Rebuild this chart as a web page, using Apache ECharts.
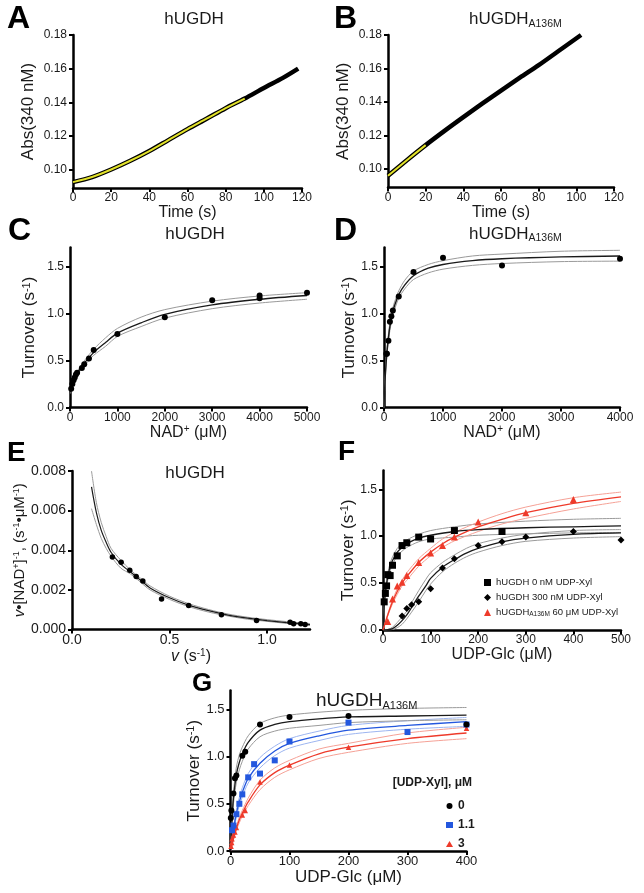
<!DOCTYPE html>
<html><head><meta charset="utf-8">
<script src="https://cdn.jsdelivr.net/npm/echarts@6/dist/echarts.min.js"></script>
<style>html,body{margin:0;padding:0;background:#fff}#c{width:644px;height:893px}</style>
</head><body><div id="c"></div>
<script>
// ---------- Panel A ----------
const aTraceT   = [0,10,20,30,40,50,60,70,80,90,100,110,118];
const aTraceAbs = [0.0925,0.0955,0.1000,0.1052,0.1110,0.1175,0.1240,0.1302,0.1365,0.1422,0.1485,0.1545,0.1600];
const aFitT     = [0,10,20,30,40,50,60,70,80,90];
const aFitAbs   = [0.0925,0.0955,0.1000,0.1052,0.1110,0.1175,0.1240,0.1302,0.1365,0.1422];
// ---------- Panel B ----------
const bTraceT   = [0,10,20,30,40,50,60,70,80,90,102.5];
const bTraceAbs = [0.0960,0.1053,0.1143,0.1228,0.1310,0.1390,0.1468,0.1545,0.1620,0.1700,0.1800];
const bFitT     = [0,10,20];
const bFitAbs   = [0.0960,0.1053,0.1143];
const absTicks  = [0.10,0.12,0.14,0.16,0.18];
// ---------- Panel C ----------
const cNad  = [25,50,75,100,125,150,250,300,400,500,1000,2000,3000,4000,4000,5000];
const cRate = [0.20,0.25,0.29,0.32,0.35,0.37,0.42,0.46,0.52,0.61,0.78,0.96,1.14,1.19,1.16,1.22];
const cFitX = [10,25,50,100,150,200,300,400,500,750,1000,1500,2000,3000,4000,5000];
const cFitMid = [0.16,0.20,0.245,0.31,0.36,0.40,0.47,0.53,0.585,0.69,0.79,0.90,0.99,1.09,1.15,1.19];
const cFitUp  = [0.17,0.21,0.255,0.32,0.375,0.42,0.495,0.56,0.62,0.74,0.84,0.96,1.04,1.13,1.185,1.22];
const cFitLo  = [0.15,0.19,0.235,0.30,0.345,0.38,0.445,0.50,0.555,0.65,0.755,0.86,0.95,1.05,1.11,1.15];
// ---------- Panel D ----------
const dNad  = [40,50,75,100,125,150,250,500,1000,2000,4000];
const dRate = [0.57,0.57,0.71,0.91,0.97,1.03,1.18,1.44,1.59,1.51,1.58];
const dFitX = [0,10,25,50,75,100,150,200,250,350,500,750,1000,1500,2000,3000,4000];
const dFitMid = [0,0.18,0.37,0.59,0.74,0.86,1.02,1.12,1.20,1.30,1.40,1.48,1.52,1.56,1.58,1.60,1.61];
const dFitUp  = [0,0.19,0.39,0.62,0.78,0.90,1.06,1.16,1.24,1.35,1.45,1.52,1.56,1.61,1.63,1.66,1.67];
const dFitLo  = [0,0.17,0.35,0.56,0.70,0.82,0.98,1.08,1.16,1.26,1.36,1.43,1.47,1.51,1.53,1.55,1.555];
const turnTicks = [0,0.5,1.0,1.5];
// ---------- Panel E ----------
const eV   = [0.207,0.252,0.296,0.329,0.363,0.459,0.598,0.766,0.946,1.118,1.136,1.173,1.195];
const eVS  = [0.00366,0.00339,0.00299,0.00268,0.00245,0.00154,0.00121,0.00075,0.00045,0.00037,0.00029,0.00029,0.00025];
const eFitX = [0.1,0.125,0.15,0.175,0.2,0.25,0.3,0.35,0.4,0.5,0.6,0.7,0.8,0.9,1.0,1.1,1.22];
const eFitMid = [0.0072,0.0059,0.0050,0.0044,0.0039,0.0033,0.0029,0.0025,0.0021,0.0016,0.00122,0.00095,0.00073,0.00057,0.00045,0.00035,0.00025];
const eFitUp  = [0.0080,0.0064,0.0054,0.0047,0.0041,0.0035,0.0030,0.0026,0.0022,0.00168,0.0013,0.00101,0.00078,0.00062,0.0005,0.0004,0.0003];
const eFitLo  = [0.0061,0.0053,0.0046,0.0041,0.0037,0.0031,0.0028,0.0024,0.0020,0.00152,0.00115,0.00088,0.00068,0.00052,0.00041,0.00031,0.0002];
const eXTicks = [0,0.5,1.0];
// ---------- Panel F ----------
const fSqX = [2.5,5,7.5,10,15,20,30,40,50,75,100,150,250];
const fSqY = [0.30,0.39,0.47,0.59,0.58,0.69,0.79,0.90,0.93,0.99,0.97,1.06,1.05];
const fDmX = [40,50,60,75,100,125,150,200,250,300,400,500];
const fDmY = [0.15,0.23,0.27,0.30,0.44,0.66,0.76,0.90,0.94,0.99,1.05,0.96];
const fTrX = [10,20,30,40,50,75,100,125,150,200,300,400];
const fTrY = [0.09,0.33,0.47,0.51,0.58,0.72,0.82,0.90,0.99,1.15,1.25,1.39];
const fSqFitX = [0,2.5,5,10,15,20,30,40,50,75,100,150,200,300,400,500];
const fSqFitMid = [0,0.25,0.40,0.57,0.67,0.74,0.83,0.88,0.92,0.98,1.01,1.05,1.07,1.09,1.10,1.11];
const fSqFitUp  = [0,0.27,0.44,0.61,0.71,0.78,0.87,0.92,0.96,1.02,1.06,1.10,1.13,1.16,1.18,1.19];
const fSqFitLo  = [0,0.23,0.36,0.53,0.63,0.70,0.79,0.84,0.88,0.94,0.97,0.99,1.01,1.025,1.035,1.04];
const fDmFitX = [0,10,20,30,40,50,60,75,90,100,125,150,175,200,250,300,400,500];
const fDmFitMid = [0,0.003,0.015,0.05,0.10,0.16,0.24,0.36,0.47,0.55,0.67,0.75,0.82,0.87,0.94,0.98,1.02,1.035];
const fDmFitUp  = [0,0.005,0.03,0.08,0.14,0.20,0.29,0.42,0.54,0.61,0.72,0.80,0.87,0.92,0.98,1.02,1.06,1.07];
const fDmFitLo  = [0,0.001,0.005,0.025,0.06,0.12,0.19,0.30,0.42,0.49,0.62,0.71,0.78,0.83,0.90,0.945,0.98,0.995];
const fTrFitX = [0,10,20,30,40,50,75,100,125,150,200,250,300,400,500];
const fTrFitMid = [0,0.16,0.30,0.41,0.50,0.57,0.72,0.83,0.92,0.99,1.10,1.18,1.25,1.35,1.42];
const fTrFitUp  = [0,0.17,0.32,0.44,0.53,0.61,0.76,0.87,0.97,1.04,1.15,1.24,1.31,1.41,1.47];
const fTrFitLo  = [0,0.15,0.28,0.38,0.47,0.53,0.68,0.79,0.88,0.95,1.05,1.13,1.19,1.29,1.37];
const fLegend = ['hUGDH 0 nM UDP-Xyl','hUGDH 300 nM UDP-Xyl','hUGDHA136M 60 μM UDP-Xyl'];
// ---------- Panel G ----------
const g0X = [0.5,1.5,5,7.5,10,20,25,50,100,200,400];
const g0Y = [0.35,0.43,0.61,0.77,0.80,1.01,1.05,1.34,1.42,1.43,1.34];
const g1X = [2.5,5,10,15,20,30,40,50,75,100,200,300,400];
const g1Y = [0.22,0.27,0.39,0.50,0.60,0.78,0.92,0.82,0.96,1.16,1.36,1.26,1.34];
const g3X = [1,2,2.5,5,7.5,10,20,25,50,100,200,400];
const g3Y = [0.05,0.09,0.13,0.17,0.20,0.25,0.38,0.43,0.73,0.91,1.10,1.30];
const gFitX = [0,2,5,10,15,20,30,50,75,100,150,200,300,400];
const g0FitMid = [0,0.27,0.56,0.81,0.94,1.03,1.15,1.28,1.34,1.37,1.40,1.42,1.43,1.44];
const g0FitUp  = [0,0.30,0.62,0.89,1.02,1.10,1.22,1.35,1.41,1.44,1.47,1.49,1.51,1.52];
const g0FitLo  = [0,0.24,0.50,0.73,0.86,0.95,1.08,1.21,1.27,1.30,1.33,1.36,1.38,1.39];
const g1FitMid = [0,0.09,0.22,0.40,0.52,0.62,0.77,0.93,1.06,1.14,1.22,1.28,1.33,1.37];
const g1FitUp  = [0,0.10,0.24,0.44,0.57,0.67,0.82,0.99,1.11,1.19,1.27,1.33,1.38,1.415];
const g1FitLo  = [0,0.08,0.20,0.36,0.48,0.57,0.72,0.88,1.01,1.09,1.17,1.235,1.29,1.32];
const g3FitMid = [0,0.05,0.13,0.24,0.33,0.40,0.52,0.70,0.83,0.91,1.03,1.10,1.19,1.25];
const g3FitUp  = [0,0.055,0.14,0.26,0.36,0.43,0.56,0.75,0.88,0.96,1.08,1.14,1.25,1.31];
const g3FitLo  = [0,0.045,0.12,0.22,0.30,0.37,0.48,0.65,0.78,0.86,0.98,1.045,1.14,1.19];
const gLegend = ['0','1.1','3'];

// ---------- styling helpers ----------
const FF = 'Liberation Sans, Arial, Helvetica, sans-serif';
const TXT = '#1a1a1a';
const RED = '#ee3a2a', RED_CI = '#f5a196', BLUE = '#2357de', BLUE_CI = '#9db5f0', BLK = '#1a1a1a', GREY = '#9a9a9a';
const zip = (xs, ys) => xs.map((x, i) => [x, ys[i]]);

const grids = [
  {left:73,  top:35,    width:229, height:153},
  {left:388, top:35,    width:226, height:152.5},
  {left:70,  top:247.5, width:237, height:160},
  {left:384, top:247.5, width:236, height:160},
  {left:72,  top:471,   width:238, height:158.5},
  {left:383, top:470.5, width:238, height:159.5},
  {left:230.5, top:690.5, width:236, height:160.5}
];

const nameRich = (fs) => ({
  t:{fontSize:fs, fontFamily:FF, color:TXT},
  i:{fontSize:fs, fontFamily:FF, color:TXT, fontStyle:'italic'},
  sup:{fontSize:Math.round(fs*0.62), fontFamily:FF, color:TXT, verticalAlign:'top'}
});

function xAx(g, o) {
  const fs = o.fs || 12;
  const ax = {
    gridIndex:g, type:'value', min:o.min, max:o.max,
    name:o.name, nameLocation:'middle', nameGap:o.gap,
    nameTextStyle:{fontSize:o.nfs||16, fontFamily:FF, color:TXT, rich:nameRich(o.nfs||16)},
    axisLine:{show:true, onZero:false, lineStyle:{color:'#000', width:2.5}},
    axisTick:{show:true, length:4, lineStyle:{color:'#000', width:2}},
    axisLabel:{fontSize:fs, fontFamily:FF, color:TXT, margin:4, formatter:(v => String(v))},
    splitLine:{show:false}
  };
  if (o.interval) ax.interval = o.interval;
  if (o.ticks) { ax.axisTick.customValues = o.ticks; ax.axisLabel.customValues = o.ticks; }
  if (o.fmt) ax.axisLabel.formatter = o.fmt;
  return ax;
}
function yAx(g, o) {
  const fs = o.fs || 12;
  const ax = {
    gridIndex:g, type:'value', min:o.min, max:o.max,
    name:o.name, nameLocation:'middle', nameGap:o.gap, nameRotate:90,
    nameTextStyle:{fontSize:o.nfs||17, fontFamily:FF, color:TXT, rich:nameRich(o.nfs||17)},
    axisLine:{show:true, onZero:false, lineStyle:{color:'#000', width:2.5}},
    axisTick:{show:true, length:4, lineStyle:{color:'#000', width:2}},
    axisLabel:{fontSize:fs, fontFamily:FF, color:TXT, margin:6},
    splitLine:{show:false}
  };
  if (o.interval) ax.interval = o.interval;
  if (o.ticks) { ax.axisTick.customValues = o.ticks; ax.axisLabel.customValues = o.ticks; }
  if (o.fmt) ax.axisLabel.formatter = o.fmt;
  return ax;
}
const f1 = v => v.toFixed(1), f2 = v => v.toFixed(2), f3 = v => v.toFixed(3);
const turnName = '{t|Turnover (s}{sup|-1}{t|)}';
const nadName = '{t|NAD}{sup|+}{t| (μM)}';

const xAxis = [
  xAx(0,{min:0,max:120,interval:20,name:'Time (s)',gap:16}),
  xAx(1,{min:0,max:120,interval:20,name:'Time (s)',gap:16}),
  xAx(2,{min:0,max:5000,interval:1000,name:nadName,gap:17}),
  xAx(3,{min:0,max:4000,interval:1000,name:nadName,gap:17}),
  xAx(4,{min:0,max:1.22,ticks:eXTicks,fmt:f1,fs:14,name:'{i|v}{t| (s}{sup|-1}{t|)}',gap:17}),
  xAx(5,{min:0,max:500,interval:100,name:'UDP-Glc (μM)',gap:17}),
  xAx(6,{min:0,max:400,interval:100,fs:13,name:'UDP-Glc (μM)',gap:12,nfs:17})
];
const yAxis = [
  yAx(0,{min:0.089,max:0.18,ticks:absTicks,fmt:f2,name:'Abs(340 nM)',gap:36}),
  yAx(1,{min:0.089,max:0.18,ticks:absTicks,fmt:f2,name:'Abs(340 nM)',gap:36}),
  yAx(2,{min:0,max:1.7,ticks:turnTicks,fmt:f1,name:turnName,gap:32}),
  yAx(3,{min:0,max:1.7,ticks:turnTicks,fmt:f1,name:turnName,gap:26}),
  yAx(4,{min:0,max:0.008,interval:0.002,fmt:f3,fs:14,nfs:15,
         name:'{i|v}{t|•[NAD}{sup|+}{t|]}{sup|-1}{t|, (s}{sup|-1}{t|•μM}{sup|-1}{t|)}',gap:44}),
  yAx(5,{min:0,max:1.7,ticks:turnTicks,fmt:f1,name:turnName,gap:24}),
  yAx(6,{min:0,max:1.7,ticks:turnTicks,fmt:f1,fs:13,nfs:17,name:turnName,gap:25})
];

function curve(g, xs, ys, color, width, z) {
  return {type:'line', xAxisIndex:g, yAxisIndex:g, data:zip(xs, ys), symbol:'none', showSymbol:false,
          smooth:0.3, lineStyle:{color:color, width:width}, silent:true, z:z||2, animation:false};
}
function dots(g, name, xs, ys, symbol, size, color) {
  return {type:'scatter', name:name, xAxisIndex:g, yAxisIndex:g, data:zip(xs, ys), symbol:symbol, symbolSize:size,
          itemStyle:{color:color, opacity:1}, silent:true, z:5, animation:false};
}

const series = [
  // A
  curve(0, aTraceT, aTraceAbs, '#000', 4.5, 2),
  curve(0, aFitT, aFitAbs, '#e2e22a', 2, 3),
  // B
  curve(1, bTraceT, bTraceAbs, '#000', 4.5, 2),
  curve(1, bFitT, bFitAbs, '#e2e22a', 2, 3),
  // C
  curve(2, cFitX, cFitUp, GREY, 1), curve(2, cFitX, cFitLo, GREY, 1), curve(2, cFitX, cFitMid, BLK, 1.3, 3),
  dots(2, 'c', cNad, cRate, 'circle', 6, '#000'),
  // D
  curve(3, dFitX, dFitUp, GREY, 1), curve(3, dFitX, dFitLo, GREY, 1), curve(3, dFitX, dFitMid, BLK, 1.4, 3),
  dots(3, 'd', dNad, dRate, 'circle', 6, '#000'),
  // E
  curve(4, eFitX, eFitUp, GREY, 1), curve(4, eFitX, eFitLo, GREY, 1), curve(4, eFitX, eFitMid, BLK, 1.2, 3),
  dots(4, 'e', eV, eVS, 'circle', 5.5, '#000'),
  // F
  curve(5, fSqFitX, fSqFitUp, GREY, 1), curve(5, fSqFitX, fSqFitLo, GREY, 1), curve(5, fSqFitX, fSqFitMid, BLK, 1.3, 3),
  curve(5, fDmFitX, fDmFitUp, GREY, 1), curve(5, fDmFitX, fDmFitLo, GREY, 1), curve(5, fDmFitX, fDmFitMid, BLK, 1.3, 3),
  curve(5, fTrFitX, fTrFitUp, RED_CI, 1), curve(5, fTrFitX, fTrFitLo, RED_CI, 1), curve(5, fTrFitX, fTrFitMid, RED, 1.3, 3),
  dots(5, fLegend[0], fSqX, fSqY, 'rect', 7, '#000'),
  dots(5, fLegend[1], fDmX, fDmY, 'diamond', 7, '#000'),
  dots(5, fLegend[2], fTrX, fTrY, 'triangle', 7, RED),
  // G
  curve(6, gFitX, g3FitUp, RED_CI, 1), curve(6, gFitX, g3FitLo, RED_CI, 1), curve(6, gFitX, g3FitMid, RED, 1.3, 3),
  curve(6, gFitX, g1FitUp, BLUE_CI, 1), curve(6, gFitX, g1FitLo, BLUE_CI, 1), curve(6, gFitX, g1FitMid, BLUE, 1.3, 3),
  curve(6, gFitX, g0FitUp, GREY, 1), curve(6, gFitX, g0FitLo, GREY, 1), curve(6, gFitX, g0FitMid, BLK, 1.3, 3),
  dots(6, gLegend[2], g3X, g3Y, 'triangle', 5.5, RED),
  dots(6, gLegend[1], g1X, g1Y, 'rect', 6, BLUE),
  dots(6, gLegend[0], g0X, g0Y, 'circle', 6, '#000')
];

const legend = [
  {orient:'vertical', left:479, top:572, itemWidth:7, itemHeight:7, itemGap:4, selectedMode:false,
   data:[{name:fLegend[0], icon:'rect'},{name:fLegend[1], icon:'diamond'},{name:fLegend[2], icon:'triangle'}],
   formatter: n => n === fLegend[2] ? '{a|hUGDH}{s|A136M}{a| 60 μM UDP-Xyl}' : '{a|' + n + '}',
   textStyle:{fontSize:9.5, fontFamily:FF, color:TXT, lineHeight:11,
     rich:{a:{fontSize:9.5, fontFamily:FF, color:TXT}, s:{fontSize:6.5, fontFamily:FF, color:TXT, verticalAlign:'bottom'}}}},
  {orient:'vertical', left:441, top:794, itemWidth:7, itemHeight:6, itemGap:5, selectedMode:false,
   data:[{name:gLegend[0], icon:'circle'},{name:gLegend[1], icon:'rect'},{name:gLegend[2], icon:'triangle'}],
   textStyle:{fontSize:12, fontWeight:'bold', fontFamily:FF, color:TXT, lineHeight:14}}
];

function txt(x, y, text, o) {
  return {type:'text', x:x, y:y, silent:true, z:50,
    style:Object.assign({text:text, fill:TXT, fontFamily:FF, fontSize:17, align:'left', verticalAlign:'middle'}, o||{})};
}
const subRich = (fs, sfs) => ({m:{fontSize:fs, fontFamily:FF, fill:TXT, color:TXT, lineHeight:fs+3},
                               s:{fontSize:sfs, fontFamily:FF, fill:TXT, color:TXT, verticalAlign:'bottom'}});
const graphic = [
  txt(7, 19, 'A', {fontSize:32, fontWeight:'bold', fill:'#000'}),
  txt(334, 19, 'B', {fontSize:32, fontWeight:'bold', fill:'#000'}),
  txt(8, 231.5, 'C', {fontSize:32, fontWeight:'bold', fill:'#000'}),
  txt(334, 231.5, 'D', {fontSize:32, fontWeight:'bold', fill:'#000'}),
  txt(7, 453, 'E', {fontSize:28, fontWeight:'bold', fill:'#000'}),
  txt(338, 452, 'F', {fontSize:28, fontWeight:'bold', fill:'#000'}),
  txt(192, 684, 'G', {fontSize:26, fontWeight:'bold', fill:'#000'}),
  txt(194, 19.5, 'hUGDH', {align:'center'}),
  txt(469, 19.5, '{m|hUGDH}{s|A136M}', {rich:subRich(17, 10.5)}),
  txt(195, 234, 'hUGDH', {align:'center'}),
  txt(469, 234, '{m|hUGDH}{s|A136M}', {rich:subRich(17, 10.5)}),
  txt(195, 473, 'hUGDH', {align:'center'}),
  txt(316, 700.5, '{m|hUGDH}{s|A136M}', {rich:subRich(19, 11)}),
  txt(472, 783, '[UDP-Xyl], μM', {align:'right', fontSize:12, fontWeight:'bold'})
];

const chart = echarts.init(document.getElementById('c'), null, {renderer:'canvas'});
chart.setOption({
  animation:false, backgroundColor:'#fff',
  grid:grids, xAxis:xAxis, yAxis:yAxis, series:series, legend:legend, graphic:graphic
});
</script></body></html>
